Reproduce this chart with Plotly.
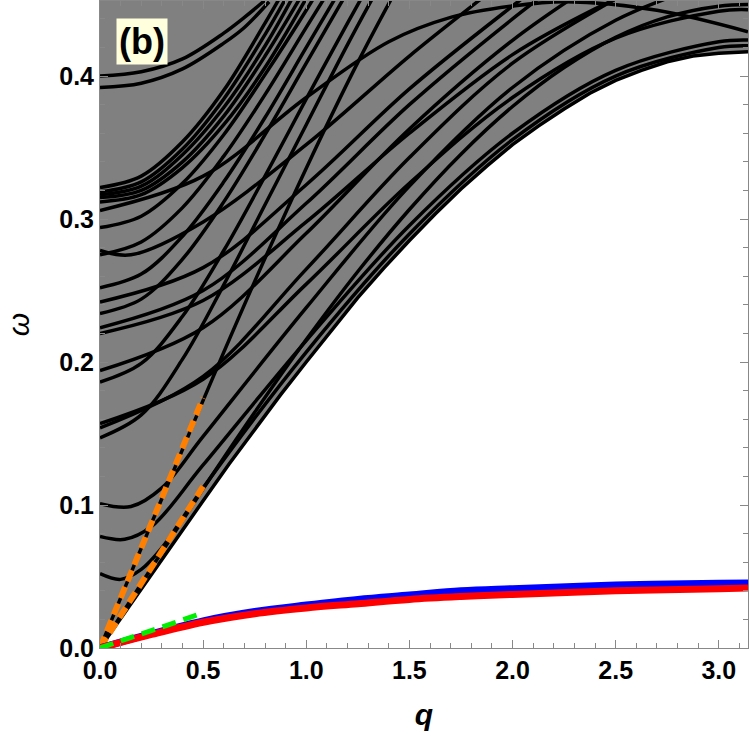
import plotly.graph_objects as go

PI = 3.14159

# ---------------- data ----------------
# lower edge of the grey continuum (also drawn as a black mode)
q_edge = [0, 0.125, 0.25, 0.375, 0.5, 0.625, 0.75, 0.875, 1.0, 1.125, 1.25, 1.375, 1.5,
          1.625, 1.75, 1.875, 2.0, 2.125, 2.25, 2.375, 2.5, 2.625, 2.75, 2.875, 3.0, PI]
w_edge = [0, 0.026, 0.052, 0.078, 0.103, 0.1285, 0.153, 0.177, 0.200, 0.223, 0.245, 0.2655, 0.285,
          0.3035, 0.321, 0.337, 0.352, 0.365, 0.377, 0.388, 0.397, 0.404, 0.410, 0.414, 0.416, 0.417]

# low-energy branches
q_red = [0, 0.25, 0.5, 0.75, 1.0, 1.25, 1.5, 1.75, 2.0, 2.5, 3.0, PI]
w_red = [0, 0.0095, 0.018, 0.024, 0.028, 0.031, 0.034, 0.036, 0.0375, 0.040, 0.0415, 0.042]
q_blue = [0, 0.25, 0.5, 0.75, 1.0, 1.25, 1.5, 1.75, 2.0, 2.5, 3.0, PI]
w_blue = [0, 0.010, 0.019, 0.0255, 0.030, 0.034, 0.037, 0.040, 0.0415, 0.044, 0.0453, 0.0455]

# linear small-q fits
q_green = [0, 0.5]
w_green = [0, 0.0245]
q_orange1 = [0, 0.5]
w_orange1 = [0, 0.175]
q_orange2 = [0, 0.5]
w_orange2 = [0, 0.113]

# black mode curves (q values, omega values)
q_c1 = [0, 0.2, 0.4, 0.6, 0.7, 0.8];           w_c1 = [0.400, 0.403, 0.412, 0.430, 0.441, 0.453]
q_c2 = [0, 0.2, 0.4, 0.6, 0.7, 0.82];          w_c2 = [0.392, 0.395, 0.405, 0.423, 0.434, 0.452]
q_b1 = [0, 0.2, 0.4, 0.6, 0.8, 0.9];           w_b1 = [0.322, 0.330, 0.354, 0.390, 0.437, 0.462]
q_b2 = [0, 0.2, 0.4, 0.6, 0.8, 0.93];          w_b2 = [0.319, 0.326, 0.349, 0.384, 0.429, 0.462]
q_b3 = [0, 0.2, 0.4, 0.6, 0.8, 0.96];          w_b3 = [0.317, 0.323, 0.345, 0.378, 0.421, 0.462]
q_b4 = [0, 0.2, 0.4, 0.6, 0.8, 1.0];           w_b4 = [0.315, 0.320, 0.340, 0.372, 0.414, 0.462]
q_b5 = [0, 0.2, 0.4, 0.6, 0.8, 1.03];          w_b5 = [0.312, 0.317, 0.336, 0.366, 0.406, 0.462]
q_s294 = [0, 0.2, 0.4, 0.6, 0.8, 1.0, 1.05];   w_s294 = [0.294, 0.302, 0.325, 0.359, 0.401, 0.446, 0.458]
q_s275 = [0, 0.2, 0.4, 0.6, 0.8, 1.0, 1.12];   w_s275 = [0.275, 0.284, 0.308, 0.344, 0.387, 0.434, 0.462]
q_s252 = [0, 0.2, 0.4, 0.6, 0.8, 1.0, 1.2];    w_s252 = [0.252, 0.2615, 0.288, 0.326, 0.371, 0.420, 0.469]
q_s234 = [0, 0.2, 0.4, 0.6, 0.8, 1.0, 1.2];    w_s234 = [0.234, 0.244, 0.272, 0.312, 0.359, 0.409, 0.459]
q_s186 = [0, 0.2, 0.4, 0.6, 0.8, 1.0, 1.2, 1.3];  w_s186 = [0.186, 0.199, 0.232, 0.278, 0.330, 0.384, 0.437, 0.463]
q_s147 = [0, 0.2, 0.4, 0.6, 0.8, 1.0, 1.2, 1.35]; w_s147 = [0.147, 0.163, 0.202, 0.254, 0.310, 0.366, 0.422, 0.462]
q_s000 = [0, 0.25, 0.5, 0.75, 1.0, 1.25, 1.45];   w_s000 = [0, 0.0873, 0.1732, 0.2564, 0.3356, 0.4096, 0.464]
q_h278 = [0, 0.15, 0.5, 1.0, 1.5, 1.83, 1.9];     w_h278 = [0.278, 0.275, 0.298, 0.352, 0.414, 0.452, 0.460]
q_h242 = [0, 0.5, 1.0, 1.5, 2.0, 2.1];            w_h242 = [0.242, 0.266, 0.324, 0.391, 0.449, 0.460]
q_h224 = [0, 0.5, 1.0, 1.5, 2.0, 2.2];            w_h224 = [0.224, 0.250, 0.311, 0.380, 0.440, 0.462]
q_h194 = [0, 0.5, 1.0, 1.5, 2.0, 2.4];            w_h194 = [0.194, 0.224, 0.290, 0.363, 0.425, 0.465]
q_h154 = [0, 0.5, 1.0, 1.5, 2.0, 2.5, 2.6];       w_h154 = [0.154, 0.190, 0.265, 0.343, 0.409, 0.454, 0.462]
q_h101 = [0, 0.15, 0.3, 0.5, 1.0, 1.5, 2.0, 2.5, 2.9]
w_h101 = [0.101, 0.099, 0.112, 0.148, 0.238, 0.323, 0.392, 0.439, 0.462]
q_h000 = [0, 0.25, 0.5, 0.75, 1.0, 1.25, 1.5, 1.75, 2.0, 2.25, 2.5, 2.75, 3.0, PI]
w_h000 = [0, 0.0561, 0.1113, 0.1648, 0.2157, 0.2633, 0.3067, 0.3454, 0.3787, 0.406, 0.4271, 0.4414, 0.4489, 0.450]
q_k220 = [0, 0.5, 1.0, 1.5, 2.0, 2.4, 2.6];       w_k220 = [0.220, 0.243, 0.298, 0.360, 0.415, 0.447, 0.460]
q_k157 = [0, 0.5, 1.0, 1.5, 2.0, 2.5, 3.0, PI];   w_k157 = [0.157, 0.188, 0.2545, 0.325, 0.385, 0.4265, 0.4454, 0.4464]
q_k078 = [0, 0.12, 0.25, 0.5, 1.0, 1.5, 2.0, 2.5, 3.0, PI]
w_k078 = [0.078, 0.076, 0.085, 0.128, 0.215, 0.2955, 0.360, 0.404, 0.424, 0.4252]
q_k052 = [0, 0.1, 0.2, 0.3, 0.5, 1.0, 1.5, 2.0, 2.5, 3.0, PI]
w_k052 = [0.052, 0.048, 0.055, 0.070, 0.112, 0.207, 0.2896, 0.3555, 0.400, 0.420, 0.4212]
q_arch = [0, 0.5, 1.0, 1.4, 1.7, 2.0, 2.26, 2.7, PI]
w_arch = [0.306, 0.330, 0.385, 0.424, 0.441, 0.449, 0.452, 0.446, 0.431]

modes = [(q_c1, w_c1), (q_c2, w_c2), (q_b1, w_b1), (q_b2, w_b2), (q_b3, w_b3), (q_b4, w_b4),
         (q_b5, w_b5), (q_s294, w_s294), (q_s275, w_s275), (q_s252, w_s252), (q_s234, w_s234),
         (q_s186, w_s186), (q_s147, w_s147), (q_s000, w_s000), (q_h278, w_h278), (q_h242, w_h242),
         (q_h224, w_h224), (q_h194, w_h194), (q_h154, w_h154), (q_h101, w_h101), (q_h000, w_h000),
         (q_k220, w_k220), (q_k157, w_k157), (q_k078, w_k078), (q_k052, w_k052), (q_arch, w_arch)]

# ---------------- figure ----------------
fig = go.Figure()

fig.add_trace(go.Scatter(
    x=q_edge + [PI, 0], y=w_edge + [0.46, 0.46],
    fill="toself", fillcolor="#808080", line=dict(width=0),
    mode="lines", hoverinfo="skip", showlegend=False))

for qq, ww in modes:
    fig.add_trace(go.Scatter(x=qq, y=ww, mode="lines",
                             line=dict(color="black", width=3.5, shape="spline", smoothing=1.0),
                             showlegend=False))
fig.add_trace(go.Scatter(x=q_edge, y=w_edge, mode="lines",
                         line=dict(color="black", width=3.5), showlegend=False))

for qq, ww in [(q_orange1, w_orange1), (q_orange2, w_orange2)]:
    fig.add_trace(go.Scatter(x=qq, y=ww, mode="lines",
                             line=dict(color="#FF8000", width=6, dash="12px,6px"), showlegend=False))

fig.add_trace(go.Scatter(x=q_blue, y=w_blue, mode="lines",
                         line=dict(color="#0000FF", width=7, shape="spline"), showlegend=False))
fig.add_trace(go.Scatter(x=q_red, y=w_red, mode="lines",
                         line=dict(color="#FF0000", width=7, shape="spline"), showlegend=False))
fig.add_trace(go.Scatter(x=q_green, y=w_green, mode="lines",
                         line=dict(color="#00EE00", width=5, dash="14px,8px"), showlegend=False))

tickfont = dict(family="Liberation Sans", size=25, color="black", weight="bold")
fig.update_layout(
    width=750, height=744,
    margin=dict(l=100, r=2, t=1, b=96),
    plot_bgcolor="white", paper_bgcolor="white",
    xaxis=dict(range=[0, PI], tickvals=[0, 0.5, 1.0, 1.5, 2.0, 2.5, 3.0],
               ticktext=["0.0", "0.5", "1.0", "1.5", "2.0", "2.5", "3.0"],
               ticks="inside", ticklen=8, tickcolor="#888", tickwidth=1,
               minor=dict(dtick=0.1, tick0=0, ticks="inside", ticklen=5, tickcolor="#888"),
               showline=True, linecolor="#888", linewidth=1, mirror="ticks",
               showgrid=False, zeroline=False, tickfont=tickfont,
               title=dict(text="<b><i>q</i></b>", font=dict(family="Liberation Sans", size=30, color="black"), standoff=20)),
    yaxis=dict(range=[0, 0.4525], tickvals=[0, 0.1, 0.2, 0.3, 0.4],
               ticktext=["0.0", "0.1", "0.2", "0.3", "0.4"],
               ticks="inside", ticklen=8, tickcolor="#888", tickwidth=1,
               minor=dict(dtick=0.02, tick0=0, ticks="inside", ticklen=5, tickcolor="#888"),
               showline=True, linecolor="#888", linewidth=1, mirror="ticks",
               showgrid=False, zeroline=False, tickfont=tickfont,
               title=dict(text="<i>ω</i>", font=dict(family="Liberation Sans", size=30, color="black"), standoff=20)),
)
fig.add_annotation(x=0.205, y=0.424, xref="x", yref="y", text="<b>(b)</b>", showarrow=False,
                   font=dict(family="Liberation Sans", size=36, color="black"),
                   bgcolor="#FFFFDD", borderpad=2)

fig.write_html("out.html")
